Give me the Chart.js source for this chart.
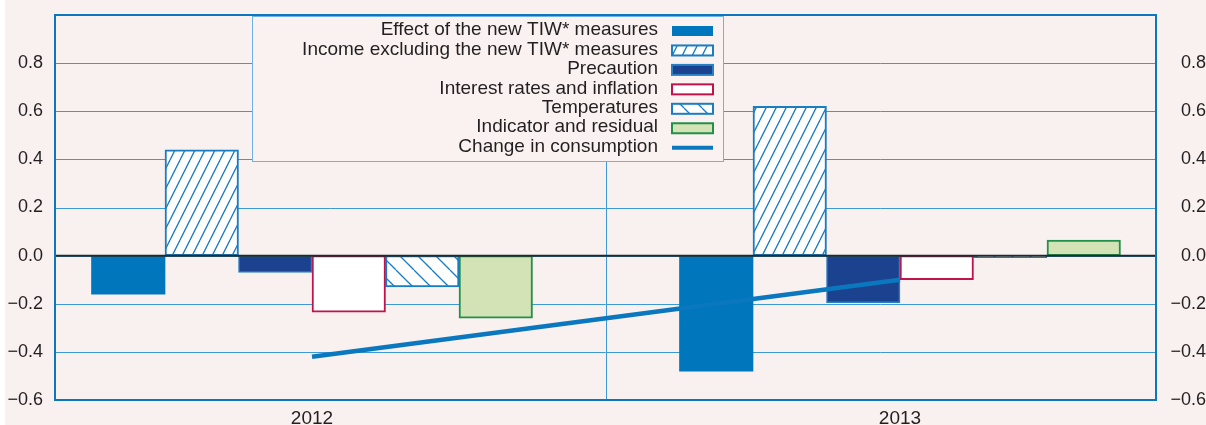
<!DOCTYPE html>
<html>
<head>
<meta charset="utf-8">
<script src="https://cdn.jsdelivr.net/npm/chart.js@4.4.1/dist/chart.umd.min.js"></script>
<style>
  html, body { margin: 0; padding: 0; }
  body { background: linear-gradient(to right, #ffffff 5px, #f8f1ef 5px); }
  #wrap { width: 1206px; height: 425px; position: relative; }
</style>
</head>
<body>
<div id="wrap"><canvas id="chart"></canvas></div>
<script>
// data
const years = ["2012", "2013"];
const seriesLabels = [
  "Effect of the new TIW* measures",
  "Income excluding the new TIW* measures",
  "Precaution",
  "Interest rates and inflation",
  "Temperatures",
  "Indicator and residual",
  "Change in consumption",
];
const effectNewTIW = [-0.16, -0.48];
const incomeExclTIW = [0.44, 0.62];
const precaution = [-0.07, -0.195];
const interestInflation = [-0.235, -0.10];
const temperatures = [-0.13, -0.008];
const indicatorResidual = [-0.26, 0.065];
const consumptionChange = [-0.42, -0.10];
const yTicks = [-0.6, -0.4, -0.2, 0.0, 0.2, 0.4, 0.6, 0.8];

const BLUE = "#0a77bf";
const GRID = "#3d98d8";
const TEXT = "#231f20";
const FONT = "'Liberation Sans', Arial, sans-serif";

function makeHatch(w, h, forward) {
  const c = document.createElement("canvas");
  c.width = w;
  c.height = h;
  const g = c.getContext("2d");
  g.fillStyle = "#ffffff";
  g.fillRect(0, 0, w, h);
  g.strokeStyle = "#1a7cc1";
  g.lineWidth = 1.3;
  for (const dx of [-w, 0, w]) {
    g.beginPath();
    if (forward) {
      g.moveTo(dx, h);
      g.lineTo(dx + w, 0);
    } else {
      g.moveTo(dx, 0);
      g.lineTo(dx + w, h);
    }
    g.stroke();
  }
  return g.createPattern(c, "repeat");
}

const fwdHatch = makeHatch(10, 20, true);
const backHatch = makeHatch(18, 18, false);

const points = (values) => values.map((v, i) => ({ x: i, y: v }));

function fmt(v) {
  if (Math.abs(v) < 1e-9) return "0.0";
  const s = Math.abs(v).toFixed(1);
  return v < 0 ? "\u2212" + s : s;
}

// blue grid lines, drawn under the bars
const blueGrid = {
  id: "blueGrid",
  beforeDatasetsDraw(chart) {
    const { ctx, chartArea: a, scales } = chart;
    ctx.save();
    ctx.strokeStyle = GRID;
    ctx.lineWidth = 1;
    ctx.beginPath();
    yTicks.forEach((v) => {
      const y = Math.round(scales.y.getPixelForValue(v)) + 0.5;
      ctx.moveTo(a.left, y);
      ctx.lineTo(a.right, y);
    });
    const x = Math.round(scales.x.getPixelForValue(0.5)) + 0.5;
    ctx.moveTo(x, a.top);
    ctx.lineTo(x, a.bottom);
    ctx.stroke();
    ctx.restore();
  },
};

const frameAndZero = {
  id: "frameAndZero",
  afterDatasetsDraw(chart) {
    const { ctx, chartArea: a } = chart;
    const y0 = chart.scales.y.getPixelForValue(0);
    ctx.save();
    ctx.strokeStyle = "#1e2b2b";
    ctx.lineWidth = 2;
    ctx.beginPath();
    ctx.moveTo(a.left, y0);
    ctx.lineTo(a.right, y0);
    ctx.stroke();
    ctx.strokeStyle = BLUE;
    ctx.lineWidth = 2;
    ctx.strokeRect(a.left, a.top, a.right - a.left, a.bottom - a.top);
    ctx.restore();
  },
};

const boxLegend = {
  id: "boxLegend",
  afterDraw(chart, args, o) {
    const ctx = chart.ctx;
    ctx.save();
    ctx.fillStyle = "#f9f2f1";
    ctx.fillRect(o.left, o.top, o.width, o.height);
    ctx.strokeStyle = "#72b2e2";
    ctx.lineWidth = 1;
    ctx.strokeRect(o.left + 0.5, o.top + 0.5, o.width, o.height);
    ctx.font = "19px " + FONT;
    ctx.textAlign = "right";
    ctx.textBaseline = "middle";
    chart.data.datasets.forEach((ds, i) => {
      const y = o.top + o.firstRow + i * o.rowStep;
      ctx.fillStyle = TEXT;
      ctx.fillText(ds.label, o.left + o.width - o.textRight, y);
      const sx = o.left + o.swatchLeft;
      if (ds.type === "line") {
        ctx.strokeStyle = ds.borderColor;
        ctx.lineWidth = 4;
        ctx.beginPath();
        ctx.moveTo(sx, y + 1);
        ctx.lineTo(sx + o.swatchW, y + 1);
        ctx.stroke();
      } else {
        ctx.fillStyle = ds.backgroundColor;
        ctx.fillRect(sx, y - o.swatchH / 2 + 1, o.swatchW, o.swatchH);
        if (ds.borderWidth) {
          ctx.strokeStyle = ds.borderColor;
          ctx.lineWidth = 2;
          ctx.strokeRect(sx, y - o.swatchH / 2 + 1, o.swatchW, o.swatchH);
        }
      }
    });
    ctx.restore();
  },
};

const barBase = { type: "bar", order: 1, borderSkipped: false, barThickness: 73.5 };

new Chart(document.getElementById("chart"), {
  data: {
    datasets: [
      { ...barBase, label: seriesLabels[0], data: points(effectNewTIW),
        backgroundColor: "#0076bd", borderColor: "#0076bd", borderWidth: 0 },
      { ...barBase, label: seriesLabels[1], data: points(incomeExclTIW),
        backgroundColor: fwdHatch, borderColor: "#1a7cc1", borderWidth: 2 },
      { ...barBase, label: seriesLabels[2], data: points(precaution),
        backgroundColor: "#1a428f", borderColor: "#2a7fc2", borderWidth: 1.5 },
      { ...barBase, label: seriesLabels[3], data: points(interestInflation),
        backgroundColor: "#ffffff", borderColor: "#c1134b", borderWidth: 2 },
      { ...barBase, label: seriesLabels[4], data: points(temperatures),
        backgroundColor: backHatch, borderColor: "#1a7cc1", borderWidth: 2 },
      { ...barBase, label: seriesLabels[5], data: points(indicatorResidual),
        backgroundColor: "#d4e3b6", borderColor: "#22904a", borderWidth: 2 },
      { type: "line", order: 0, label: seriesLabels[6], data: points(consumptionChange),
        borderColor: BLUE, borderWidth: 4.5, pointRadius: 0, fill: false },
    ],
  },
  options: {
    responsive: true,
    maintainAspectRatio: false,
    animation: false,
    layout: { padding: { top: 15, left: 0, right: 0, bottom: 0 } },
    plugins: {
      legend: { display: false },
      tooltip: { enabled: false },
      boxLegend: {
        left: 252, top: 16, width: 471, height: 145,
        firstRow: 14, rowStep: 19.45, textRight: 65,
        swatchLeft: 420, swatchW: 41, swatchH: 10,
      },
    },
    scales: {
      x: {
        type: "linear",
        offset: false,
        bounds: "data",
        min: -0.4371,
        max: 1.4354,
        afterBuildTicks: (s) => { s.ticks = [0, 1].map((v) => ({ value: v })); },
        afterFit: (s) => { s.height = 25; s.paddingLeft = 0; s.paddingRight = 0; },
        grid: { display: false, drawTicks: false },
        border: { display: false },
        ticks: {
          padding: 7,
          maxRotation: 0,
          autoSkip: false,
          color: TEXT,
          font: { family: FONT, size: 19 },
          callback: (v) => years[v] ?? "",
        },
      },
      y: {
        position: "left",
        min: -0.6,
        max: 1.0,
        afterBuildTicks: (s) => { s.ticks = yTicks.map((v) => ({ value: v })); },
        afterFit: (s) => { s.width = 55; s.paddingTop = 0; s.paddingBottom = 0; },
        grid: { display: false, drawTicks: false },
        border: { display: false },
        ticks: { padding: 12, color: TEXT, font: { family: FONT, size: 18 }, callback: fmt },
      },
      y2: {
        position: "right",
        min: -0.6,
        max: 1.0,
        afterBuildTicks: (s) => { s.ticks = yTicks.map((v) => ({ value: v })); },
        afterFit: (s) => { s.width = 50; s.paddingTop = 0; s.paddingBottom = 0; },
        grid: { display: false, drawTicks: false },
        border: { display: false },
        ticks: { padding: 11, crossAlign: "far", color: TEXT, font: { family: FONT, size: 18 }, callback: fmt },
      },
    },
  },
  plugins: [blueGrid, frameAndZero, boxLegend],
});
</script>
</body>
</html>
